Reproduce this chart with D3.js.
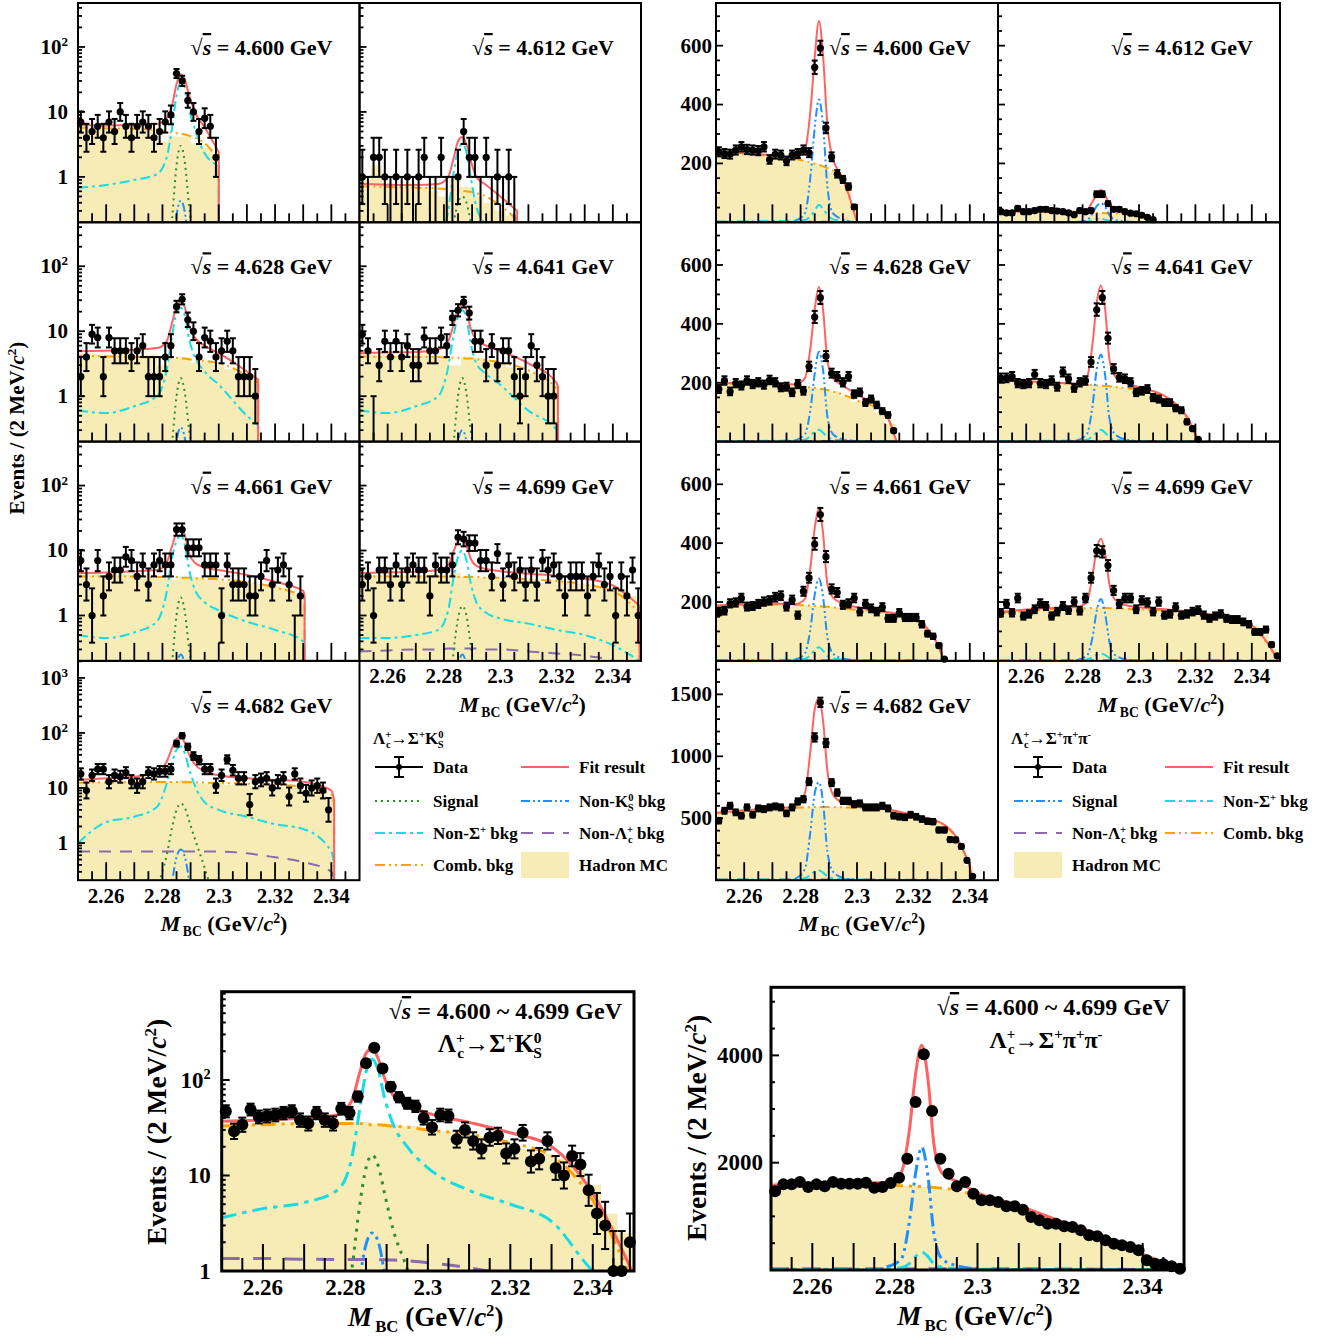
<!DOCTYPE html>
<html>
<head>
<meta charset="utf-8">
<script src="https://cdn.jsdelivr.net/npm/d3@7"></script>
<style>
  body { margin: 0; background: #fff; }
  text { font-family: "Liberation Serif", "Times New Roman", serif; font-weight: bold; fill: #000; }
</style>
</head>
<body>
<svg id="fig" width="1332" height="1338"></svg>
<script>
// knot positions (GeV/c^2) for the fitted pdf curves
const K = [2.250, 2.260, 2.270, 2.278, 2.2815, 2.2835, 2.285, 2.2865, 2.288, 2.2895, 2.2915, 2.295, 2.300, 2.310, 2.320, 2.330, 2.340];
// finer knots around the Lambda_c peak
const P = [2.278, 2.2815, 2.2835, 2.285, 2.2865, 2.288, 2.2895, 2.2915, 2.295, 2.300];

const energies = ["4.600", "4.612", "4.628", "4.641", "4.661", "4.699", "4.682"];
const endpoints = [2.300, 2.306, 2.314, 2.3205, 2.3305, 2.3495, 2.341];
const endAll = 2.3495;

// ---------- Lambda_c -> Sigma+ K0S ----------
const skData4600 = [7,4,5,6,4,7,5,10,6,4,6,7,6,4,5,7,9,39,30,15,10,5,8,6,2];
const skFit4600 = [6.3, 6.2, 6.3, 6.5, 8, 13, 27, 38, 31, 18, 10, 5.8, 2.4];
const skComb4600 = [5.7, 5.6, 5.5, 5.3, 5.0, 4.8, 4.7, 4.6, 4.5, 4.3, 4.0, 3.3, 1.8];
const skNonSig4600 = [0.68, 0.75, 0.9, 1.1, 2.0, 6, 18, 29, 24, 11, 5.5, 2.3, 1.5];
const skSig4600 = [0, 0.02, 0.25, 1.5, 3.0, 1.6, 0.35, 0.1, 0, 0];
const skNonK4600 = [0, 0, 0.05, 0.25, 0.43, 0.28, 0.06, 0, 0, 0];
const skMc4600 = [5.8,5.8,5.6,5.7,5.5,5.3,5.6,3.5,4.2,4.2,3.3,2.8,2.0];

const skData4612 = [1,0,2,2,1,0,1,0,1,0,1,2,0,0,2,0,0,1,5,2,2,0,2,0,1,0,1,0];
const skFit4612 = [0.78, 0.76, 0.75, 0.78, 1.0, 2.0, 3.5, 4.1, 3.2, 1.8, 1.0, 0.75, 0.5, 0.3];
const skComb4612 = [0.72, 0.7, 0.68, 0.66, 0.64, 0.63, 0.62, 0.61, 0.6, 0.59, 0.56, 0.5, 0.36, 0.22];
const skNonSig4612 = [0.05, 0.05, 0.06, 0.1, 0.3, 1.2, 2.6, 3.2, 2.4, 1.0, 0.35, 0.18, 0.1, 0.05];
const skSig4612 = [0, 0.05, 0.2, 0.4, 0.5, 0.4, 0.2, 0.05, 0, 0];
const skMc4612 = [0.9,1.5,0.8,0.7,0.8,0.7,0.6,0.5,1.0,0.7,0.5,0.4,0.3,0.25];

const skData4628 = [2,4,9,8,2,8,5,5,5,4,5,6,2,2,2,4,6,24,31,15,10,4,8,7,4,5,7,5,2,2,2,1];
const skFit4628 = [4.9, 5.0, 5.2, 5.5, 7, 14, 24, 29, 23, 12, 8, 6, 4.6, 2.4, 1.8];
const skComb4628 = [4.2, 4.1, 4.0, 4.0, 3.9, 3.9, 3.9, 3.8, 3.8, 3.7, 3.6, 3.5, 3.2, 2.1, 1.6];
const skNonSig4628 = [0.6, 0.55, 0.7, 1.0, 2.5, 9, 19, 23, 17, 7.5, 4.0, 2.4, 1.5, 0.5, 0.35];
const skSig4628 = [0, 0.02, 0.2, 1.0, 1.9, 1.1, 0.3, 0.1, 0, 0];
const skNonK4628 = [0, 0, 0.05, 0.2, 0.33, 0.22, 0.05, 0, 0, 0];
const skMc4628 = [4.6,4.5,4.3,4.5,4.4,4.2,4.4,3.0,3.8,4.0,3.3,3.5,3.0,2.6,2.3,1.9];

const skData4641 = [9,5,0,3,7,4,7,4,6,3,3,8,5,5,8,6,16,21,28,19,7,7,3,6,3,5,5,2,1,2,6,3,2,1,1];
const skFit4641 = [4.6, 4.7, 4.8, 5.2, 7, 13, 22, 26, 21, 11, 7.5, 6, 5.0, 3.2, 1.6, 1.4];
const skComb4641 = [4.1, 4.0, 4.0, 4.0, 3.9, 3.9, 3.9, 3.8, 3.8, 3.8, 3.7, 3.6, 3.3, 2.5, 1.3, 1.1];
const skNonSig4641 = [0.6, 0.55, 0.7, 1.0, 2.8, 9, 17, 21, 16, 6.5, 3.2, 2.2, 1.5, 0.6, 0.3, 0.25];
const skSig4641 = [0, 0.02, 0.2, 1.0, 1.9, 1.1, 0.3, 0.1, 0, 0];
const skNonK4641 = [0, 0, 0.05, 0.2, 0.3, 0.2, 0.05, 0, 0, 0];
const skMc4641 = [4.5,4.4,4.4,4.2,4.3,4.5,4.2,3.7,3.0,4.1,3.9,3.6,3.2,2.8,2.4,2.3,1.9,1.5];

const skData4661 = [7,3,1,7,2,4,5,5,8,7,4,6,3,6,7,6,6,21,21,11,11,11,6,6,6,1,6,3,3,3,2,2,4,7,3,5,6,3,0,2];
const skFit4661 = [4.5, 4.6, 4.8, 5.0, 6.5, 12, 19, 22, 17, 9, 6.5, 5.5, 5.0, 4.2, 3.3, 2.4, 2.0];
const skComb4661 = [4.0, 4.0, 4.0, 3.9, 3.9, 3.9, 3.9, 3.8, 3.8, 3.8, 3.7, 3.7, 3.6, 3.3, 2.7, 1.9, 1.6];
const skNonSig4661 = [0.5, 0.45, 0.55, 0.8, 2.3, 8, 14, 17, 12, 5, 2.5, 1.6, 1.2, 0.8, 0.6, 0.4, 0.35];
const skSig4661 = [0, 0.02, 0.2, 1.0, 1.9, 1.1, 0.3, 0.1, 0, 0];
const skNonK4661 = [0, 0, 0.04, 0.16, 0.25, 0.17, 0.04, 0, 0, 0];
const skMc4661 = [4.4,4.3,4.2,4.4,4.3,4.2,4.3,3.8,3.5,4.0,3.9,3.6,3.5,3.3,3.2,3.1,3.0,2.9,2.7,2.2,1.5];

const skData4699 = [3,4,1,5,5,3,6,3,5,6,5,5,2,6,5,5,6,16,15,13,13,7,7,4,9,3,6,4,5,3,5,3,7,5,6,4,2,4,4,4,2,4,6,3,4,1,4,2,5,1];
const skFit4699 = [4.5, 4.6, 4.7, 5.0, 6, 10, 14, 15, 12, 7.5, 5.8, 5.2, 4.8, 4.4, 4.1, 3.7, 2.9, 1.4];
const skComb4699 = [4.0, 4.0, 4.0, 4.0, 4.0, 4.0, 3.9, 3.9, 3.9, 3.9, 3.9, 3.8, 3.8, 3.6, 3.4, 3.0, 2.4, 1.1];
const skNonSig4699 = [0.45, 0.45, 0.5, 0.6, 1.2, 4, 8, 10, 7, 3.2, 1.6, 1.1, 0.9, 0.75, 0.6, 0.5, 0.35, 0.2];
const skNonLam4699 = [0.28, 0.29, 0.3, 0.3, 0.31, 0.31, 0.31, 0.31, 0.31, 0.31, 0.31, 0.3, 0.3, 0.28, 0.26, 0.24, 0.2, 0.12];
const skSig4699 = [0, 0.03, 0.3, 0.9, 1.4, 1.0, 0.35, 0.08, 0, 0];
const skNonK4699 = [0, 0, 0.04, 0.16, 0.25, 0.17, 0.04, 0, 0, 0];
const skMc4699 = [4.2,4.2,4.4,4.1,4.3,4.2,4.4,4.0,4.5,3.9,3.8,3.9,3.7,3.6,3.5,3.6,3.2,3.5,3.3,3.1,3.0,2.8,2.6,2.4,2.0];

const skData4682 = [18,9,17,22,22,13,17,16,19,13,11,13,19,18,20,20,22,64,89,56,38,32,22,22,11,17,33,21,15,15,5,13,14,15,10,13,15,7,18,11,8,10,11,9,4];
const skFit4682 = [14, 15, 16, 19, 30, 55, 78, 85, 65, 40, 27, 20, 17, 15, 14, 13, 9, 6];
const skComb4682 = [12.5, 12.6, 12.7, 12.8, 12.8, 12.8, 12.8, 12.8, 12.7, 12.7, 12.6, 12.5, 12.3, 12.0, 11.5, 10.5, 7.5, 5];
const skNonSig4682 = [1.0, 2.4, 3.0, 4.5, 12, 30, 50, 57, 42, 22, 11, 5.5, 4.0, 3.0, 2.2, 1.8, 0.7, 0.4];
const skNonLam4682 = [0.7, 0.7, 0.7, 0.7, 0.7, 0.7, 0.7, 0.7, 0.7, 0.7, 0.7, 0.7, 0.7, 0.65, 0.55, 0.45, 0.3, 0.22];
const skSig4682 = [0.15, 0.6, 2.0, 4.0, 5.2, 4.3, 2.5, 1.2, 0.35, 0.05];
const skNonK4682 = [0, 0.02, 0.2, 0.55, 0.76, 0.55, 0.2, 0.02, 0, 0];
const skMc4682 = [13,13,12.5,13,12.5,12.5,13,13.5,13,14,12,12,12.5,11.5,11.5,11,11,11,10.5,10,9.5,8.5,7];

const skDataAll = [47,29,34,49,41,42,43,45,47,38,35,45,38,35,50,45,67,150,218,132,85,66,57,53,40,32,43,42,24,30,23,19,25,26,17,19,28,14,15,23,12,10,16,13,7,4,3,1,1,2];
const skFitAll = [37, 38, 40, 43, 60, 120, 190, 215, 165, 105, 70, 55, 45, 36, 28, 20, 6.5, 1.0];
const skCombAll = [33, 34, 35, 35, 35, 35, 34.5, 34, 34, 33.5, 33, 32, 30, 27, 22, 16, 5.5, 0.8];
const skNonSigAll = [3.6, 4.5, 5.2, 7, 15, 50, 120, 165, 125, 65, 35, 20, 12, 7, 5, 3.3, 1.0, 0.5];
const skNonLamAll = [1.35, 1.35, 1.33, 1.32, 1.32, 1.32, 1.32, 1.32, 1.31, 1.31, 1.3, 1.28, 1.22, 1.08, 0.9, 0.7, 0.5, 0.3];
const skSigAll = [0.2, 1.0, 5, 12, 16.4, 12.5, 6.5, 2.8, 1.05, 0.2];
const skNonKAll = [0, 0.1, 0.8, 1.9, 2.5, 2.0, 0.9, 0.15, 0, 0];
const skMcAll = [35,35,36,36,36,36,35,34,36,35,34,33,31,29,28,26,23,21,19,17,15,12,8,4,2.5];

// ---------- Lambda_c -> Sigma+ pi+ pi- ----------
const ppData4600 = [239,233,231,245,256,247,245,243,256,213,231,228,208,228,233,245,236,526,592,320,222,164,145,121,52];
const ppFit4600 = [240, 235, 228, 222, 245, 380, 560, 684, 560, 330, 215, 150, 0];
const ppComb4600 = [238, 232, 224, 215, 208, 203, 199, 195, 190, 184, 175, 140, 0];
const ppNonSig4600 = [3, 3, 4, 5, 8, 20, 40, 60, 45, 25, 10, 5, 0];
const ppNonLam4600 = [2, 2, 2, 2, 2, 2, 2, 2, 2, 2, 2, 2, 0];
const ppSig4600 = [5, 30, 157, 321, 417, 325, 121, 30, 10, 0];
const ppMc4600 = [237,234,232,229,226,222,217,211,201,190,172,125,50];

const ppData4612 = [36,32,32,47,36,36,40,44,44,40,38,36,32,26,40,36,40,95,95,63,44,44,36,31,29,24,17,9];
const ppFit4612 = [38, 36, 35, 36, 42, 70, 95, 110, 92, 60, 40, 33, 25, 0];
const ppComb4612 = [37, 35, 34, 34, 33, 33, 32, 32, 31, 31, 30, 28, 23, 0];
const ppNonSig4612 = [1, 1, 1, 1, 2, 6, 10, 12, 9, 5, 2, 1, 1, 0];
const ppNonLam4612 = [1, 1, 1, 1, 1, 1, 1, 1, 1, 1, 1, 1, 1, 0];
const ppSig4612 = [1, 6, 30, 55, 65, 52, 25, 8, 3, 0];
const ppMc4612 = [37,36,35,35,34,34,34,33,32,31,30,27,21,10];

const ppData4628 = [178,207,170,198,190,207,195,201,193,209,201,184,186,167,195,172,255,423,489,290,232,221,201,221,161,167,132,144,124,103,90,37];
const ppFit4628 = [197, 200, 198, 194, 215, 320, 450, 525, 445, 275, 215, 190, 160, 97, 0];
const ppComb4628 = [195, 197, 195, 190, 186, 184, 182, 180, 178, 175, 170, 160, 140, 95, 0];
const ppNonSig4628 = [2, 2, 3, 4, 6, 20, 35, 40, 30, 15, 8, 4, 2, 1, 0];
const ppNonLam4628 = [2, 2, 2, 2, 2, 2, 2, 2, 2, 2, 2, 2, 2, 1, 0];
const ppSig4628 = [4, 25, 110, 230, 305, 240, 85, 25, 8, 2];
const ppMc4628 = [196,197,197,196,195,194,192,188,183,178,170,155,135,118,100,60];

const ppData4641 = [216,216,221,198,195,198,228,198,195,207,186,236,213,182,201,207,270,448,489,351,247,218,213,201,167,172,178,149,144,132,132,113,106,67,44,8];
const ppFit4641 = [212, 205, 200, 197, 218, 330, 470, 530, 450, 280, 222, 200, 185, 150, 25, 0];
const ppComb4641 = [210, 203, 198, 195, 193, 192, 191, 190, 189, 188, 186, 182, 175, 145, 22, 0];
const ppNonSig4641 = [2, 2, 3, 4, 6, 18, 32, 40, 30, 14, 7, 4, 2, 1, 0.5, 0];
const ppNonLam4641 = [2, 2, 2, 2, 2, 2, 2, 2, 2, 2, 2, 2, 2, 2, 1, 0];
const ppSig4641 = [4, 25, 120, 245, 295, 225, 80, 25, 8, 2];
const ppMc4641 = [208,205,203,200,198,197,195,194,192,190,186,180,173,163,152,130,90,30];

const ppData4661 = [167,170,195,198,213,184,186,193,201,205,216,221,184,207,155,236,282,397,497,354,244,232,190,195,213,167,193,178,167,182,144,144,163,147,147,147,124,92,83,52,6];
const ppFit4661 = [188, 192, 195, 193, 210, 320, 450, 515, 430, 260, 215, 195, 182, 167, 145, 25, 0];
const ppComb4661 = [185, 190, 192, 190, 189, 188, 187, 186, 185, 184, 182, 178, 174, 162, 140, 23, 0];
const ppNonSig4661 = [2, 2, 3, 4, 7, 20, 38, 46, 34, 16, 8, 4, 2, 1, 1, 0.5, 0];
const ppNonLam4661 = [2, 2, 2, 2, 2, 2, 2, 2, 2, 2, 2, 2, 2, 2, 2, 1, 0];
const ppSig4661 = [4, 25, 110, 225, 280, 215, 80, 25, 8, 2];
const ppMc4661 = [186,188,190,191,192,191,190,189,188,185,182,177,174,170,165,158,150,140,105,60,20];

const ppData4699 = [163,193,163,213,152,159,175,195,186,152,167,186,172,201,170,213,282,374,370,324,239,193,213,213,175,205,198,167,201,155,159,182,155,159,167,172,155,144,152,159,144,140,140,132,124,98,98,106,55,17];
const ppFit4699 = [165, 175, 180, 183, 200, 290, 380, 415, 365, 260, 208, 190, 182, 175, 165, 150, 120, 0];
const ppComb4699 = [162, 170, 175, 178, 179, 180, 180, 180, 180, 179, 178, 177, 175, 170, 160, 145, 115, 0];
const ppNonSig4699 = [2, 2, 2, 3, 5, 12, 20, 25, 20, 10, 5, 3, 2, 1, 1, 1, 0.5, 0];
const ppNonLam4699 = [2, 2, 2, 2, 2, 2, 2, 2, 2, 2, 2, 2, 2, 2, 2, 2, 1, 0];
const ppSig4699 = [3, 18, 80, 170, 210, 160, 65, 20, 6, 1];
const ppMc4699 = [164,167,170,172,174,176,177,178,179,180,180,178,176,174,172,170,166,162,158,152,146,138,120,90,40];

const ppData4682 = [480,560,600,547,520,587,528,579,573,587,595,587,539,587,635,653,795,1152,1435,1107,787,707,640,640,613,619,587,587,587,600,579,520,512,507,528,512,493,475,472,405,405,328,325,272,160,32];
const ppFit4682 = [545, 565, 578, 595, 700, 1050, 1380, 1470, 1280, 880, 690, 625, 598, 575, 525, 460, 105, 0];
const ppComb4682 = [540, 560, 575, 585, 588, 589, 590, 590, 590, 590, 590, 588, 585, 570, 520, 455, 100, 0];
const ppNonSig4682 = [5, 5, 5, 8, 15, 45, 70, 80, 60, 30, 15, 8, 5, 3, 2, 2, 1, 0];
const ppNonLam4682 = [5, 5, 5, 5, 5, 5, 5, 5, 5, 5, 5, 5, 5, 5, 4, 3, 2, 0];
const ppSig4682 = [10, 90, 400, 700, 790, 620, 230, 70, 20, 5];
const ppMc4682 = [545,552,560,566,572,578,583,587,589,590,590,589,586,582,574,562,540,520,495,465,420,300,120];

const ppDataAll = [1466,1596,1596,1640,1547,1596,1559,1640,1609,1609,1609,1627,1534,1547,1621,1720,2075,3130,4019,2963,2075,1795,1559,1640,1422,1298,1298,1267,1186,1186,1124,988,925,863,863,814,801,739,646,627,553,491,460,429,366,180,118,106,68,25];
const ppFitAll = [1575, 1615, 1625, 1625, 1815, 2600, 3650, 4190, 3560, 2310, 1800, 1650, 1440, 1200, 910, 645, 295, 0];
const ppCombAll = [1555, 1580, 1590, 1580, 1570, 1565, 1560, 1555, 1550, 1540, 1525, 1490, 1380, 1170, 890, 630, 290, 0];
const ppNonSigAll = [15, 15, 15, 20, 40, 120, 250, 335, 250, 110, 50, 25, 15, 10, 8, 5, 3, 0];
const ppNonLamAll = [25, 25, 25, 25, 25, 25, 25, 25, 25, 25, 25, 25, 25, 22, 20, 15, 10, 0];
const ppSigAll = [60, 200, 900, 1800, 2290, 1750, 650, 200, 80, 20];
const ppMcAll = [1640,1620,1610,1610,1605,1600,1590,1580,1565,1545,1510,1460,1380,1280,1180,1050,900,820,740,620,510,420,260,110,60];

const skSets = [
  { data: skData4600, fit: skFit4600, comb: skComb4600, nonSig: skNonSig4600, nonLam: null, sig: skSig4600, nonK: skNonK4600, mc: skMc4600 },
  { data: skData4612, fit: skFit4612, comb: skComb4612, nonSig: skNonSig4612, nonLam: null, sig: skSig4612, nonK: null, mc: skMc4612 },
  { data: skData4628, fit: skFit4628, comb: skComb4628, nonSig: skNonSig4628, nonLam: null, sig: skSig4628, nonK: skNonK4628, mc: skMc4628 },
  { data: skData4641, fit: skFit4641, comb: skComb4641, nonSig: skNonSig4641, nonLam: null, sig: skSig4641, nonK: skNonK4641, mc: skMc4641 },
  { data: skData4661, fit: skFit4661, comb: skComb4661, nonSig: skNonSig4661, nonLam: null, sig: skSig4661, nonK: skNonK4661, mc: skMc4661 },
  { data: skData4699, fit: skFit4699, comb: skComb4699, nonSig: skNonSig4699, nonLam: skNonLam4699, sig: skSig4699, nonK: skNonK4699, mc: skMc4699 },
  { data: skData4682, fit: skFit4682, comb: skComb4682, nonSig: skNonSig4682, nonLam: skNonLam4682, sig: skSig4682, nonK: skNonK4682, mc: skMc4682 }
];
const ppSets = [
  { data: ppData4600, fit: ppFit4600, comb: ppComb4600, nonSig: ppNonSig4600, nonLam: ppNonLam4600, sig: ppSig4600, mc: ppMc4600 },
  { data: ppData4612, fit: ppFit4612, comb: ppComb4612, nonSig: ppNonSig4612, nonLam: ppNonLam4612, sig: ppSig4612, mc: ppMc4612 },
  { data: ppData4628, fit: ppFit4628, comb: ppComb4628, nonSig: ppNonSig4628, nonLam: ppNonLam4628, sig: ppSig4628, mc: ppMc4628 },
  { data: ppData4641, fit: ppFit4641, comb: ppComb4641, nonSig: ppNonSig4641, nonLam: ppNonLam4641, sig: ppSig4641, mc: ppMc4641 },
  { data: ppData4661, fit: ppFit4661, comb: ppComb4661, nonSig: ppNonSig4661, nonLam: ppNonLam4661, sig: ppSig4661, mc: ppMc4661 },
  { data: ppData4699, fit: ppFit4699, comb: ppComb4699, nonSig: ppNonSig4699, nonLam: ppNonLam4699, sig: ppSig4699, mc: ppMc4699 },
  { data: ppData4682, fit: ppFit4682, comb: ppComb4682, nonSig: ppNonSig4682, nonLam: ppNonLam4682, sig: ppSig4682, mc: ppMc4682 }
];

const xTickVals = [2.26, 2.28, 2.3, 2.32, 2.34];
const xTickText = ["2.26", "2.28", "2.3", "2.32", "2.34"];

// ---------- styles ----------
const MC = "#f7ecb6";
const ST = {
  fit:    { color: "#ff6262", dash: null },
  sigG:   { color: "#2f8f2f", dash: "2,4" },
  nonK:   { color: "#1e8fff", dash: "9,3,2,3,2,3" },
  sigB:   { color: "#1e8fff", dash: "9,3,2,3,2,3" },
  nonSig: { color: "#16dde4", dash: "10,4,3,4" },
  nonLam: { color: "#8a6bb0", dash: "12,9" },
  comb:   { color: "#ffa200", dash: "10,4,2,4,2,4" }
};

const svg = d3.select("#fig");
const defs = svg.append("defs");
let clipN = 0;

const T = (t, o) => Object.assign({ t }, o || {});
function rich(parent, x, y, segs, size, anchor, rotate) {
  const t = parent.append("text").attr("x", x).attr("y", y)
    .attr("font-size", size).attr("text-anchor", anchor || "start");
  if (rotate) t.attr("transform", `rotate(${rotate},${x},${y})`);
  let base = 0;
  segs.forEach(s => {
    const off = s.sup ? -0.38 * size : s.sub ? 0.24 * size : 0;
    const sp = t.append("tspan").text(s.t).attr("dy", off - base);
    base = off;
    if (s.sup || s.sub) sp.attr("font-size", 0.62 * size);
    if (s.it) sp.attr("font-style", "italic");
    if (s.dx) sp.attr("dx", s.dx * size);
    if (s.over) sp.style("text-decoration", "overline");
  });
  return t;
}

const mbcTitle = [T("M", { it: 1 }), T("BC", { sub: 1, dx: 0.12 }), T(" (GeV/"), T("c", { it: 1 }), T("2", { sup: 1 }), T(")")];
const evTitle = [T("Events / (2 MeV/"), T("c", { it: 1 }), T("2", { sup: 1 }), T(")")];
const sqrtS = e => [T("√"), T("s", { it: 1, over: 1 }), T(` = ${e} GeV`)];
const skDecay = [T("Λ"), T("+", { sup: 1 }), T("c", { sub: 1, dx: -0.3 }), T("→Σ"), T("+", { sup: 1 }), T("K"), T("0", { sup: 1 }), T("S", { sub: 1, dx: -0.33 })];
const ppDecay = [T("Λ"), T("+", { sup: 1 }), T("c", { sub: 1, dx: -0.3 }), T("→Σ"), T("+", { sup: 1 }), T("π"), T("+", { sup: 1 }), T("π"), T("-", { sup: 1 })];

const dashOf = (d, f) => d ? d.split(",").map(v => +v * f).join(",") : null;

function drawPanel(o) {
  const g = svg.append("g");
  const x = d3.scaleLinear().domain([2.25, 2.35]).range([o.x0, o.x0 + o.w]);
  const y = (o.log ? d3.scaleLog() : d3.scaleLinear()).domain(o.ydom).range([o.y0 + o.h, o.y0]);
  const yb = o.y0 + o.h;
  const lowest = o.log ? o.ydom[0] / 30 : 0;
  const yv = v => y(Math.max(v, lowest));
  const id = "clip" + (clipN++);
  defs.append("clipPath").attr("id", id).append("rect")
    .attr("x", o.x0).attr("y", o.y0).attr("width", o.w).attr("height", o.h);
  const body = g.append("g").attr("clip-path", `url(#${id})`);
  const f = o.big ? 1.5 : 1;
  const lw = o.big ? 3 : 2;

  // hadron MC histogram (4 MeV bins)
  const bins = o.mc.map((v, k) => [2.25 + 0.004 * k, Math.min(2.25 + 0.004 * (k + 1), o.end), v]);
  let d = `M${x(2.25)},${yb}`;
  bins.forEach(([lo, hi, v]) => { d += `L${x(lo)},${yv(v)}L${x(hi)},${yv(v)}`; });
  d += `L${x(bins[bins.length - 1][1])},${yb}Z`;
  body.append("path").attr("d", d).attr("fill", MC);

  const line = d3.line().x(p => x(p[0])).y(p => yv(p[1])).curve(d3.curveMonotoneX);
  const n = K.filter(k => k < o.end).length;
  const knots = vals => vals.map((v, i) => [i < n ? K[i] : o.end, v]);
  const peak = vals => vals.map((v, i) => [P[i], v]);
  function curve(pts, st, drop) {
    let dd = line(pts);
    const last = pts[pts.length - 1];
    if (drop && last[1] > 0) dd += `L${x(last[0])},${yv(0)}`;
    body.append("path").attr("d", dd).attr("fill", "none")
      .attr("stroke", st.color).attr("stroke-width", lw)
      .attr("stroke-dasharray", dashOf(st.dash, f));
  }
  curve(knots(o.comb), ST.comb, true);
  if (o.nonLam) curve(knots(o.nonLam), ST.nonLam, true);
  curve(knots(o.nonSig), ST.nonSig, true);
  if (o.nonK) curve(peak(o.nonK), ST.nonK, false);
  curve(peak(o.sig), o.sigStyle, false);
  curve(knots(o.fit), ST.fit, true);

  // data with Poisson-like error bars
  const r = o.big ? 6 : 3.6, cap = o.big ? 4 : 3;
  const dg = g.append("g").attr("stroke", "#000").attr("stroke-width", 2);
  o.data.forEach((c, i) => {
    const cx = x(2.251 + 0.002 * i);
    const s = Math.sqrt(c + 0.25);
    const yl = Math.min(yb, yv(c - (s - 0.5)));
    const yh = yv(c + s + 0.5);
    dg.append("line").attr("x1", cx).attr("x2", cx).attr("y1", yl).attr("y2", yh);
    dg.append("line").attr("x1", cx - cap).attr("x2", cx + cap).attr("y1", yh).attr("y2", yh);
    if (yl < yb) dg.append("line").attr("x1", cx - cap).attr("x2", cx + cap).attr("y1", yl).attr("y2", yl);
    if (!(o.log && c <= 0)) dg.append("circle").attr("cx", cx).attr("cy", y(c)).attr("r", r).attr("fill", "#000").attr("stroke", "none");
  });

  // frame
  g.append("rect").attr("x", o.x0).attr("y", o.y0).attr("width", o.w).attr("height", o.h)
    .attr("fill", "none").attr("stroke", "#000").attr("stroke-width", o.big ? 3 : 2);

  // x ticks
  const tg = g.append("g").attr("stroke", "#000").attr("stroke-width", o.big ? 2 : 1.8);
  const xMaj = o.big ? 27 : 18, xMin = o.big ? 13 : 9;
  for (let k = 1; k < 20; k++) {
    const v = 2.25 + 0.005 * k;
    const L = k % 2 === 0 ? xMaj : xMin;
    tg.append("line").attr("x1", x(v)).attr("x2", x(v)).attr("y1", yb).attr("y2", yb - L);
  }
  // y ticks
  const yMaj = o.big ? 8 : 7, yMin = 4;
  const yt = [];
  if (o.log) {
    for (let e = Math.floor(Math.log10(o.ydom[0])); e <= Math.ceil(Math.log10(o.ydom[1])); e++) {
      for (let m = 1; m < 10; m++) {
        const v = m * Math.pow(10, e);
        if (v > o.ydom[0] && v < o.ydom[1]) yt.push([v, m === 1]);
      }
    }
  } else {
    for (let v = o.minor; v < o.ydom[1]; v += o.minor) yt.push([v, Math.abs(v % o.major) < 1e-6]);
  }
  yt.forEach(([v, maj]) => {
    tg.append("line").attr("x1", o.x0).attr("x2", o.x0 + (maj ? yMaj : yMin)).attr("y1", y(v)).attr("y2", y(v));
  });

  // labels
  const fs = o.big ? 23 : 21;
  if (o.showY) {
    o.yLabels.forEach(([v, segs]) => rich(g, o.x0 - o.yGap, y(v) + fs * 0.33, segs, fs, "end"));
  }
  if (o.showX) {
    xTickVals.forEach((v, i) => g.append("text").attr("x", x(v)).attr("y", yb + (o.big ? 24 : 22.5))
      .attr("font-size", fs).attr("text-anchor", "middle").text(xTickText[i]));
    rich(g, o.x0 + o.titleOff, yb + (o.big ? 55 : 51), mbcTitle, o.big ? 27 : 22, "middle");
  }
  if (o.label) rich(g, o.x0 + o.w - 27, o.y0 + 52, sqrtS(o.label), 22, "end");
}

const pos = [[0, 0], [0, 1], [1, 0], [1, 1], [2, 0], [2, 1], [3, 0]];
const lab = v => [v, [T(String(v))]];
const skLab = [[1, [T("1")]], [10, [T("10")]], [100, [T("10"), T("2", { sup: 1 })]]];
const skLab4 = skLab.concat([[1000, [T("10"), T("3", { sup: 1 })]]]);

energies.forEach((e, i) => {
  const [r, c] = pos[i];
  drawPanel(Object.assign({
    x0: 78 + 281.5 * c, y0: 3 + 219.3 * r, w: 281.5, h: 219.3,
    log: true, ydom: r === 3 ? [0.211, 2036] : [0.2, 475], end: endpoints[i],
    sigStyle: ST.sigG, showY: c === 0, yLabels: r === 3 ? skLab4 : skLab, yGap: 10,
    showX: i === 5 || i === 6, titleOff: c === 0 ? 146 : 163, label: e
  }, skSets[i]));
  drawPanel(Object.assign({
    x0: 716 + 282 * c, y0: 3 + 219.3 * r, w: 282, h: 219.3,
    log: false, ydom: r === 3 ? [0, 1770] : [0, 745], major: r === 3 ? 500 : 200, minor: r === 3 ? 100 : 50,
    end: endpoints[i], sigStyle: ST.sigB, nonK: null, showY: c === 0,
    yLabels: r === 3 ? [lab(500), lab(1000), lab(1500)] : [lab(200), lab(400), lab(600)], yGap: 4,
    showX: i === 5 || i === 6, titleOff: c === 0 ? 146 : 163, label: e
  }, ppSets[i]));
});

// combined panels
drawPanel({
  x0: 221.7, y0: 991.7, w: 412.3, h: 279.3, big: true, log: true, ydom: [1, 840], end: endAll,
  data: skDataAll, fit: skFitAll, comb: skCombAll, nonSig: skNonSigAll, nonLam: skNonLamAll,
  sig: skSigAll, nonK: skNonKAll, mc: skMcAll, sigStyle: ST.sigG,
  showY: true, yLabels: [[1, [T("1")]], [10, [T("10")]], [100, [T("10"), T("2", { sup: 1 })]]], yGap: 11,
  showX: true, titleOff: 204
});
drawPanel({
  x0: 771, y0: 987.3, w: 413, h: 282.7, big: true, log: false, ydom: [0, 5269], major: 2000, minor: 500,
  end: endAll, data: ppDataAll, fit: ppFitAll, comb: ppCombAll, nonSig: ppNonSigAll, nonLam: ppNonLamAll,
  sig: ppSigAll, nonK: null, mc: ppMcAll, sigStyle: ST.sigB,
  showY: true, yLabels: [lab(2000), lab(4000)], yGap: 8,
  showX: true, titleOff: 204
});

// titles and annotations
const ann = svg.append("g");
rich(ann, 24, 428, evTitle, 21, "middle", -90);
rich(ann, 166, 1132, evTitle, 27.5, "middle", -90);
rich(ann, 706, 1128, evTitle, 27.5, "middle", -90);
rich(ann, 622, 1019, sqrtS("4.600 ~ 4.699"), 24, "end");
rich(ann, 490, 1052, skDecay, 25, "middle");
rich(ann, 1170, 1015, sqrtS("4.600 ~ 4.699"), 24, "end");
rich(ann, 1046, 1048, ppDecay, 24, "middle");

// legends
function legendSym(g, kind, x0, x1, yc) {
  if (kind === "data") {
    const xm = (x0 + x1) / 2;
    g.append("line").attr("x1", x0).attr("x2", x1).attr("y1", yc).attr("y2", yc).attr("stroke", "#000").attr("stroke-width", 2);
    g.append("line").attr("x1", xm).attr("x2", xm).attr("y1", yc - 10).attr("y2", yc + 10).attr("stroke", "#000").attr("stroke-width", 2);
    [yc - 10, yc + 10].forEach(yy => g.append("line").attr("x1", xm - 5).attr("x2", xm + 5).attr("y1", yy).attr("y2", yy).attr("stroke", "#000").attr("stroke-width", 2));
    g.append("circle").attr("cx", xm).attr("cy", yc).attr("r", 3).attr("fill", "#000");
  } else if (kind === "mc") {
    g.append("rect").attr("x", x0).attr("y", yc - 13).attr("width", x1 - x0).attr("height", 26).attr("fill", MC);
  } else {
    const st = ST[kind];
    g.append("line").attr("x1", x0).attr("x2", x1).attr("y1", yc).attr("y2", yc)
      .attr("stroke", st.color).attr("stroke-width", 2).attr("stroke-dasharray", st.dash);
  }
}
function legend(title, tx, cols, rows) {
  const g = svg.append("g");
  rich(g, tx, 744, title, 17, "start");
  const ys = [767, 801, 833, 865];
  rows.forEach((row, ri) => row.forEach((it, ci) => {
    const c = cols[ci];
    legendSym(g, it.kind, c[0], c[1], ys[ri]);
    rich(g, c[2], ys[ri] + 6, it.label, 17, "start");
  }));
}
const lbl = {
  data: [T("Data")], fit: [T("Fit result")], sig: [T("Signal")],
  nonK: [T("Non-K"), T("0", { sup: 1 }), T("S", { sub: 1, dx: -0.33 }), T(" bkg")],
  nonSig: [T("Non-Σ"), T("+", { sup: 1 }), T(" bkg")],
  nonLam: [T("Non-Λ"), T("+", { sup: 1 }), T("c", { sub: 1, dx: -0.3 }), T(" bkg")],
  comb: [T("Comb. bkg")], mc: [T("Hadron MC")]
};
legend(skDecay, 373, [[375, 423, 433], [521, 569, 579]], [
  [{ kind: "data", label: lbl.data }, { kind: "fit", label: lbl.fit }],
  [{ kind: "sigG", label: lbl.sig }, { kind: "nonK", label: lbl.nonK }],
  [{ kind: "nonSig", label: lbl.nonSig }, { kind: "nonLam", label: lbl.nonLam }],
  [{ kind: "comb", label: lbl.comb }, { kind: "mc", label: lbl.mc }]
]);
legend(ppDecay, 1011, [[1014, 1062, 1072], [1165, 1213, 1223]], [
  [{ kind: "data", label: lbl.data }, { kind: "fit", label: lbl.fit }],
  [{ kind: "sigB", label: lbl.sig }, { kind: "nonSig", label: lbl.nonSig }],
  [{ kind: "nonLam", label: lbl.nonLam }, { kind: "comb", label: lbl.comb }],
  [{ kind: "mc", label: lbl.mc }]
]);
</script>
</body>
</html>
